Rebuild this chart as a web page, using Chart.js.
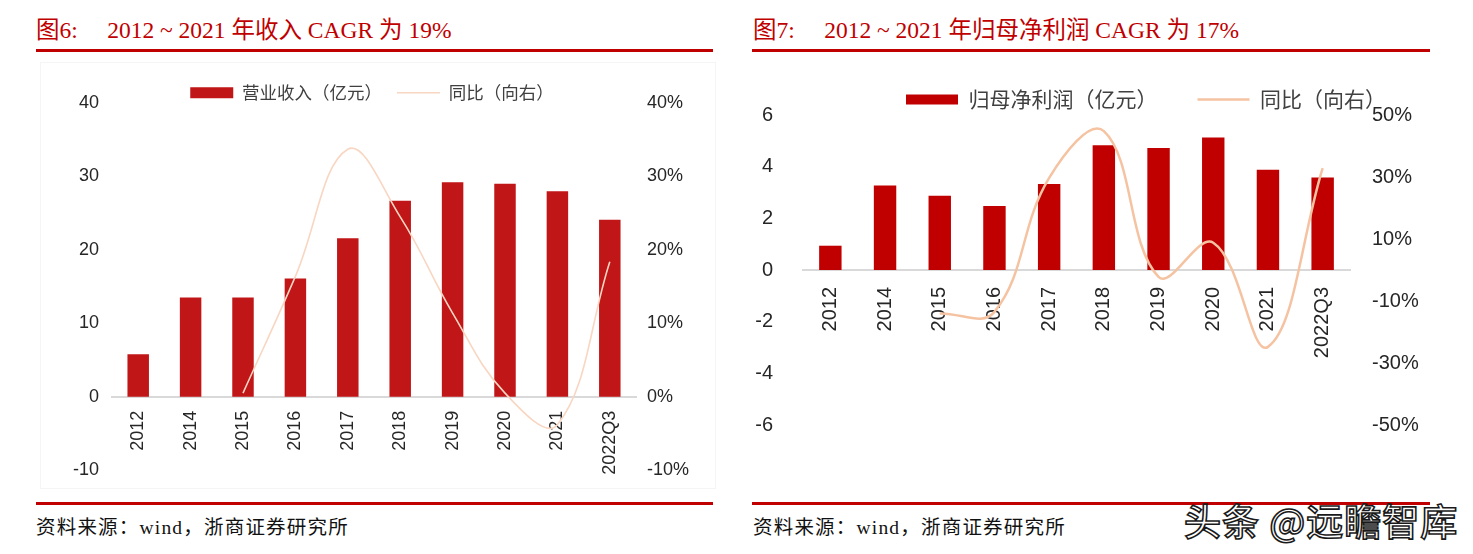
<!DOCTYPE html>
<html>
<head>
<meta charset="utf-8">
<script src="https://cdn.jsdelivr.net/npm/chart.js@4.4.1/dist/chart.umd.min.js"></script>
<style>
  body { margin: 0; background: #fff; width: 1473px; height: 554px; position: relative; overflow: hidden; }
  .title { position: absolute; top: 11px; font: 23.5px "Liberation Serif", "Noto Sans CJK SC", serif; color: #C00000; white-space: pre; }
  .rule { position: absolute; height: 3px; background: #C00000; }
  .source { position: absolute; top: 511px; font: 19.5px "Liberation Serif", "Noto Sans CJK SC", serif; color: #111;
            white-space: pre; letter-spacing: 1.2px; }
  .box { position: absolute; }
  .frame { position: absolute; border: 1px solid #f5f5f5; }
  .mark { position: absolute; left: 1184px; top: 493px; font: 500 37px "Noto Sans CJK SC", sans-serif; color: #fff;
          -webkit-text-stroke: 1.6px #1a1a1a; white-space: pre; letter-spacing: 1px; }
</style>
</head>
<body>
<div class="title" style="left:36px">图6:     2012 ~ 2021 年收入 CAGR 为 19%</div>
<div class="title" style="left:753px">图7:     2012 ~ 2021 年归母净利润 CAGR 为 17%</div>
<div class="rule" style="left:36px; top:49px; width:677px"></div>
<div class="rule" style="left:752px; top:49px; width:678px"></div>
<div class="frame" style="left:40px; top:62px; width:674px; height:425px"></div>

<div class="box" style="left:36px; top:69px; width:680px; height:425px"><canvas id="revChart"></canvas></div>
<div class="box" style="left:742px; top:49px; width:688px; height:440px"><canvas id="profitChart"></canvas></div>

<div class="rule" style="left:36px; top:502px; width:677px"></div>
<div class="rule" style="left:752px; top:502px; width:678px"></div>
<div class="source" style="left:36px">资料来源：wind，浙商证券研究所</div>
<div class="source" style="left:753px">资料来源：wind，浙商证券研究所</div>
<div class="mark">头条 @远瞻智库</div>

<script>
// categories
const labels = ["2012", "2014", "2015", "2016", "2017", "2018", "2019", "2020", "2021", "2022Q3"];

// fig 6: revenue (亿元) and yoy (%)
const revenue = [5.8, 13.5, 13.5, 16.1, 21.6, 26.7, 29.2, 29.0, 28.0, 24.1];
const revenueYoY = [null, null, 0.5, 16.4, 33.7, 24.5, 11.4, 0.5, -3.8, 18.4];

// fig 7: net profit (亿元) and yoy (%)
const netProfit = [0.94, 3.27, 2.87, 2.48, 3.33, 4.83, 4.72, 5.13, 3.88, 3.58];
const netProfitYoY = [null, null, -14.0, -13.5, 29.7, 44.8, -2.2, 8.8, -24.8, 32.9];

// tick ranges
const revTicks = { min: -10, max: 40, step: 10 };
const revPctTicks = { min: -10, max: 40, step: 10 };
const profitTicks = { min: -6, max: 6, step: 2 };
const profitPctTicks = { min: -50, max: 50, step: 20 };

Chart.defaults.animation = false;
Chart.defaults.font.family = "'Liberation Sans', Arial, sans-serif";

// move the legend sideways after layout
const legendShift = {
    id: "legendShift",
    afterLayout(chart, args, opts) {
        const lg = chart.legend;
        if (lg && opts.dx) {
            lg.left += opts.dx;
            lg.right += opts.dx;
        }
    }
};

function makeChart(id, cfg) {
    return new Chart(document.getElementById(id), {
        type: "bar",
        plugins: [legendShift],
        data: {
            labels: labels,
            datasets: [{
                label: cfg.barLabel,
                data: cfg.bars,
                backgroundColor: cfg.barColor,
                barPercentage: 0.41,
                categoryPercentage: 1,
                yAxisID: "y",
                order: 1
            }, {
                type: "line",
                label: cfg.lineLabel,
                data: cfg.line,
                borderColor: cfg.lineColor,
                borderWidth: cfg.lineWidth,
                pointRadius: 0,
                tension: 0.4,
                yAxisID: "y1",
                order: 0
            }]
        },
        options: {
            responsive: true,
            maintainAspectRatio: false,
            layout: { padding: { top: 0, left: 0, right: 0, bottom: cfg.padBottom } },
            plugins: {
                tooltip: { enabled: false },
                legendShift: { dx: cfg.legendDx },
                legend: {
                    position: "top",
                    maxHeight: cfg.legendHeight,
                    labels: {
                        usePointStyle: true,
                        pointStyleWidth: cfg.legendBoxW,
                        boxHeight: cfg.legendBoxH,
                        padding: cfg.legendPad,
                        color: "#404040",
                        font: { family: "'Noto Sans CJK SC', sans-serif", size: cfg.legendSize },
                        sort: function(a, b) { return a.datasetIndex - b.datasetIndex; },
                        generateLabels(chart) {
                            const items = Chart.defaults.plugins.legend.labels.generateLabels(chart);
                            items.forEach(function(it) {
                                it.pointStyle = it.datasetIndex === 0 ? "rect" : "line";
                            });
                            return items;
                        }
                    }
                }
            },
            scales: {
                x: {
                    position: { y: 0 },
                    grid: { display: false, drawTicks: false },
                    border: { display: true, color: "#D9D9D9", width: 2 },
                    ticks: {
                        minRotation: 90, maxRotation: 90, autoSkip: false,
                        padding: cfg.xPad, color: "#262626",
                        font: { size: cfg.tickSize }
                    }
                },
                y: {
                    position: "left",
                    min: cfg.yTicks.min, max: cfg.yTicks.max,
                    grid: { display: false, drawTicks: false },
                    border: { display: false },
                    afterFit(scale) { scale.width = cfg.yWidth; },
                    ticks: {
                        stepSize: cfg.yTicks.step, padding: cfg.yPad, color: "#262626",
                        font: { size: cfg.tickSize }
                    }
                },
                y1: {
                    position: "right",
                    min: cfg.pctTicks.min, max: cfg.pctTicks.max,
                    grid: { display: false, drawTicks: false },
                    border: { display: false },
                    afterFit(scale) { scale.width = cfg.y1Width; },
                    ticks: {
                        stepSize: cfg.pctTicks.step, padding: cfg.y1Pad, color: "#262626",
                        font: { size: cfg.tickSize },
                        callback: function(v) { return v + "%"; }
                    }
                }
            }
        }
    });
}

makeChart("revChart", {
    barLabel: "营业收入（亿元）",
    lineLabel: "同比（向右）",
    bars: revenue,
    line: revenueYoY,
    barColor: "#C11618",
    lineColor: "#F8D6C2",
    lineWidth: 1.6,
    yTicks: revTicks,
    pctTicks: revPctTicks,
    yWidth: 76, y1Width: 80, yPad: 13, y1Pad: 11,
    xPad: 14, tickSize: 18,
    padBottom: 13,
    legendHeight: 34, legendPad: 15, legendSize: 17.5,
    legendBoxW: 43, legendBoxH: 11, legendDx: -4
});

makeChart("profitChart", {
    barLabel: "归母净利润（亿元）",
    lineLabel: "同比（向右）",
    bars: netProfit,
    line: netProfitYoY,
    barColor: "#C00000",
    lineColor: "#F5C3A2",
    lineWidth: 2.5,
    yTicks: profitTicks,
    pctTicks: profitPctTicks,
    yWidth: 61, y1Width: 80, yPad: 30, y1Pad: 22,
    xPad: 17, tickSize: 20,
    padBottom: 64,
    legendHeight: 66, legendPad: 40, legendSize: 21,
    legendBoxW: 52, legendBoxH: 10, legendDx: 60
});
</script>
</body>
</html>
